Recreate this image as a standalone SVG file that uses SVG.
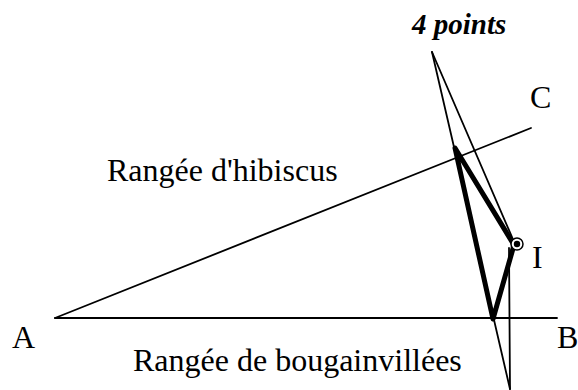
<svg xmlns="http://www.w3.org/2000/svg" width="578" height="390" viewBox="0 0 578 390">
<style>
.thin{stroke:#000;stroke-width:1.8;fill:none;stroke-linecap:round}
.thick{stroke:#000;stroke-width:5;fill:none;stroke-linejoin:round;stroke-linecap:round}
.lbl{font-family:"Liberation Serif","Times New Roman",serif;font-size:32px;fill:#000}
.title{font-family:"Liberation Serif","Times New Roman",serif;font-size:29px;font-weight:bold;font-style:italic;fill:#000}
</style>
<rect width="578" height="390" fill="#fff"/>
<g id="connectors">
<line class="thin" x1="55" y1="318" x2="557" y2="318"/>
<line class="thin" x1="55" y1="318" x2="531" y2="128"/>
<line class="thin" x1="432" y1="52" x2="510" y2="389"/>
<line class="thin" x1="432" y1="52" x2="515" y2="244"/>
<line class="thin" x1="509" y1="248" x2="510" y2="389"/>
<polygon class="thick" points="455,148 514,245 493,319"/>
</g>
<g id="pointI">
<circle cx="517" cy="244" r="6" fill="#fff" stroke="#000" stroke-width="1.5"/>
<circle cx="517" cy="244" r="3.2" fill="#000"/>
</g>
<g id="labels">
<text class="title" x="412" y="34">4 points</text>
<text class="lbl" x="530" y="108">C</text>
<text class="lbl" x="107" y="181">Rangée d'hibiscus</text>
<text class="lbl" x="532" y="268">I</text>
<text class="lbl" x="12" y="348">A</text>
<text class="lbl" x="557" y="348">B</text>
<text class="lbl" x="133" y="371">Rangée de bougainvillées</text>
</g>
</svg>
